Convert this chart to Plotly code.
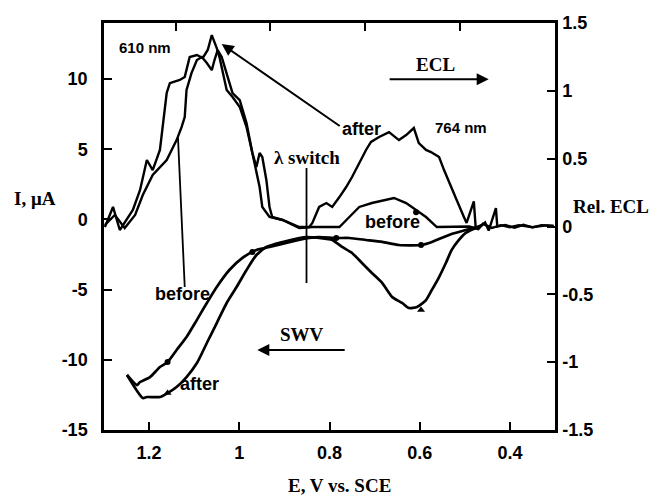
import plotly.graph_objects as go

# ---------------- data ----------------
# ECL "after" (right axis, relative ECL)
ecl_after_E = [1.298, 1.280, 1.265, 1.236, 1.220, 1.205, 1.192, 1.176, 1.170, 1.161, 1.154, 1.132,
               1.121, 1.110, 1.094, 1.081, 1.070, 1.061, 1.050, 1.044, 1.028, 1.015, 0.999, 0.984,
               0.971, 0.962, 0.955, 0.949, 0.940, 0.933, 0.927, 0.904, 0.867, 0.845,
               0.838, 0.823, 0.807, 0.794, 0.778, 0.763, 0.750, 0.734, 0.719, 0.708, 0.690, 0.668,
               0.646, 0.630, 0.613, 0.602, 0.586, 0.575, 0.557, 0.546, 0.531, 0.518, 0.502, 0.496,
               0.480, 0.476, 0.469, 0.455, 0.447, 0.431, 0.428, 0.410, 0.390, 0.370, 0.350, 0.330, 0.303]
ecl_after_R = [-0.004, 0.144, -0.026, 0.122, 0.269, 0.490, 0.416, 0.564, 0.733, 0.984, 1.057, 1.080,
               1.102, 1.249, 1.264, 1.242, 1.301, 1.411, 1.315, 1.249, 1.006, 0.954, 0.881, 0.733,
               0.542, 0.438, 0.542, 0.512, 0.343, 0.144, 0.070, 0.048, -0.004, -0.004,
               0.026, 0.144, 0.173, 0.144, 0.217, 0.291, 0.365, 0.468, 0.564, 0.623, 0.660, 0.696,
               0.637, 0.674, 0.726, 0.615, 0.564, 0.549, 0.512, 0.416, 0.291, 0.195, 0.070, 0.026,
               0.185, 0.000, -0.011, 0.030, -0.030, 0.136, 0.000, 0.012, -0.010, 0.012, -0.006, 0.010, 0.004]

# ECL "before"
ecl_before_E = [1.298, 1.276, 1.254, 1.231, 1.214, 1.192, 1.161, 1.139, 1.128, 1.121, 1.117, 1.106,
                1.094, 1.083, 1.072, 1.061, 1.055, 1.048, 1.039, 1.028, 1.015, 0.999, 0.984, 0.971,
                0.955, 0.949, 0.933, 0.904, 0.867, 0.838, 0.778, 0.756, 0.734, 0.706, 0.675, 0.657,
                0.630, 0.608, 0.586, 0.562, 0.513, 0.490, 0.470, 0.460, 0.440, 0.420, 0.400, 0.380,
                0.350, 0.320, 0.303]
ecl_before_R = [0.011, 0.085, -0.011, 0.085, 0.232, 0.380, 0.490, 0.637, 0.733, 0.807, 1.006, 1.131,
                1.227, 1.249, 1.205, 1.153, 1.227, 1.301, 1.249, 1.131, 0.984, 0.932, 0.763, 0.542,
                0.291, 0.144, 0.070, 0.048, -0.011, -0.004, -0.004, 0.070, 0.144, 0.173, 0.195, 0.210,
                0.173, 0.122, 0.070, -0.004, -0.004, 0.000, -0.020, 0.020, -0.010, 0.010, -0.005, 0.010,
                -0.005, 0.008, 0.004]

# SWV "before" (left axis, current in uA)
swv_before_E = [1.249, 1.227, 1.220, 1.198, 1.176, 1.159, 1.139, 1.117, 1.094, 1.072, 1.050, 1.022,
                0.993, 0.962, 0.933, 0.896, 0.845, 0.823, 0.785, 0.756, 0.719, 0.683, 0.646, 0.597,
                0.573, 0.535, 0.498, 0.469]
swv_before_I = [-11.08, -11.80, -11.58, -11.23, -10.51, -10.16, -9.30, -8.37, -7.15, -5.95, -4.81, -3.60,
                -2.74, -2.17, -1.96, -1.67, -1.32, -1.25, -1.32, -1.32, -1.46, -1.60, -1.82, -1.82,
                -1.60, -1.10, -0.75, -0.53]

# SWV "after"
swv_after_E = [1.249, 1.214, 1.205, 1.176, 1.159, 1.139, 1.117, 1.094, 1.072, 1.050, 1.028, 1.006,
               0.984, 0.962, 0.940, 0.904, 0.867, 0.851, 0.823, 0.794, 0.772, 0.750, 0.728, 0.706,
               0.683, 0.661, 0.639, 0.624, 0.606, 0.586, 0.573, 0.557, 0.542, 0.529, 0.513, 0.498,
               0.476, 0.462]
swv_after_I = [-11.08, -12.72, -12.65, -12.65, -12.37, -11.94, -11.23, -10.23, -8.80, -7.38, -5.95, -4.81,
               -3.60, -2.53, -1.96, -1.60, -1.32, -1.25, -1.32, -1.46, -1.96, -2.39, -3.10, -3.81,
               -4.53, -5.52, -5.95, -6.31, -6.24, -5.74, -5.02, -4.10, -3.10, -2.17, -1.46, -0.96,
               -0.61, -0.39]

# symbol markers along the curves
mk_swv_before_E = [1.159, 0.971, 0.785, 0.597]
mk_swv_before_I = [-10.16, -2.31, -1.32, -1.82]
mk_swv_after_E = [1.159, 0.597]
mk_swv_after_I = [-12.37, -6.45]
mk_ecl_before_E = [0.608]
mk_ecl_before_R = [0.105]

x_ticks = [1.2, 1.0, 0.8, 0.6, 0.4]
x_ticktext = ["1.2", "1", "0.8", "0.6", "0.4"]
y_ticks = [-15, -10, -5, 0, 5, 10]
y_ticktext = ["-15", "-10", "-5", "0", "5", "10"]
y2_ticks = [-1.5, -1, -0.5, 0, 0.5, 1, 1.5]
y2_ticktext = ["-1.5", "-1", "-0.5", "0", "0.5", "1", "1.5"]
top_ticks = [0, 1, 2, 3]

# ---------------- figure ----------------
SANS = "Liberation Sans, Arial, sans-serif"
SERIF = "Liberation Serif, Times New Roman, serif"
LW = 2.4

fig = go.Figure()
fig.add_trace(go.Scatter(x=ecl_after_E, y=ecl_after_R, yaxis="y2", mode="lines",
                         line=dict(color="black", width=LW)))
fig.add_trace(go.Scatter(x=ecl_before_E, y=ecl_before_R, yaxis="y2", mode="lines",
                         line=dict(color="black", width=LW)))
fig.add_trace(go.Scatter(x=swv_before_E, y=swv_before_I, mode="lines",
                         line=dict(color="black", width=2.7, shape="spline", smoothing=0.6)))
fig.add_trace(go.Scatter(x=swv_after_E, y=swv_after_I, mode="lines",
                         line=dict(color="black", width=2.7, shape="spline", smoothing=0.6)))
fig.add_trace(go.Scatter(x=mk_swv_before_E, y=mk_swv_before_I, mode="markers",
                         marker=dict(color="black", size=6, symbol="circle")))
fig.add_trace(go.Scatter(x=mk_swv_after_E, y=mk_swv_after_I, mode="markers",
                         marker=dict(color="black", size=7, symbol="triangle-up")))
fig.add_trace(go.Scatter(x=mk_ecl_before_E, y=mk_ecl_before_R, yaxis="y2", mode="markers",
                         marker=dict(color="black", size=6, symbol="circle")))
# invisible trace to anchor the top axis
fig.add_trace(go.Scatter(x=[top_ticks[0]], y=[0], xaxis="x2", mode="markers",
                         marker=dict(opacity=0), hoverinfo="skip"))

axis_common = dict(showline=True, linecolor="black", linewidth=2.5, ticks="inside",
                   ticklen=8, tickwidth=2, tickcolor="black", showgrid=False, zeroline=False,
                   tickfont=dict(family=SANS, size=18, color="black", weight="bold"))

fig.update_layout(
    width=655, height=496,
    margin=dict(l=104, r=100, t=23, b=66),
    plot_bgcolor="white", paper_bgcolor="white",
    showlegend=False,
    xaxis=dict(range=[1.3, 0.3], tickvals=x_ticks, ticktext=x_ticktext,
               ticklabelstandoff=5, **axis_common),
    xaxis2=dict(range=[-0.76, 4.01], overlaying="x", side="top", tickvals=top_ticks,
                showticklabels=False, **axis_common),
    yaxis=dict(range=[-15, 14], tickvals=y_ticks, ticktext=y_ticktext,
               ticklabelstandoff=10, **axis_common),
    yaxis2=dict(range=[-1.5, 1.5], overlaying="y", side="right", tickvals=y2_ticks,
                ticktext=y2_ticktext, ticklabelstandoff=1, **axis_common),
)

def txt(x, y, s, font, size, xref="x", yref="y"):
    fig.add_annotation(x=x, y=y, xref=xref, yref=yref, text=s, showarrow=False,
                       xanchor="center", yanchor="middle",
                       font=dict(family=font, size=size, color="black", weight="bold"))

# text labels
txt(1.209, 12.22, "610 nm", SANS, 15)
txt(0.509, 6.52, "764 nm", SANS, 15)
txt(0.564, 11.05, "ECL", SERIF, 19)
txt(0.860, -8.16, "SWV", SERIF, 19)
txt(0.850, 4.45, "λ switch", SERIF, 19)
txt(1.125, -5.31, "before", SANS, 18)
txt(0.661, -0.18, "before", SANS, 18)
txt(0.730, 6.45, "after", SANS, 18)
txt(1.088, -11.72, "after", SANS, 18)

# axis titles
txt(-0.153, 0.570, "I, μA", SERIF, 19, xref="paper", yref="paper")
txt(1.124, 0.550, "Rel. ECL", SERIF, 19, xref="paper", yref="paper")
txt(0.523, -0.136, "E, V vs. SCE", SERIF, 19, xref="paper", yref="paper")

# arrows
def arrow(x0, y0, x1, y1, yref="y", head=2):
    fig.add_annotation(x=x1, y=y1, ax=x0, ay=y0, xref="x", yref=yref, axref="x", ayref=yref,
                       text="", showarrow=True, arrowhead=head, arrowsize=1.2, arrowwidth=2,
                       arrowcolor="black")

arrow(0.670, 10.0, 0.447, 10.0)          # ECL ->
arrow(0.763, -9.30, 0.960, -9.30)        # <- SWV
arrow(0.774, 0.733, 1.039, 1.345, yref="y2")  # after -> peak

# plain pointer lines
fig.add_shape(type="line", x0=1.121, y0=-4.81, x1=1.136, y1=5.88, xref="x", yref="y",
              line=dict(color="black", width=1.8))
fig.add_shape(type="line", x0=0.851, y0=3.67, x1=0.851, y1=-4.53, xref="x", yref="y",
              line=dict(color="black", width=1.8))

fig.write_html("out.html")
